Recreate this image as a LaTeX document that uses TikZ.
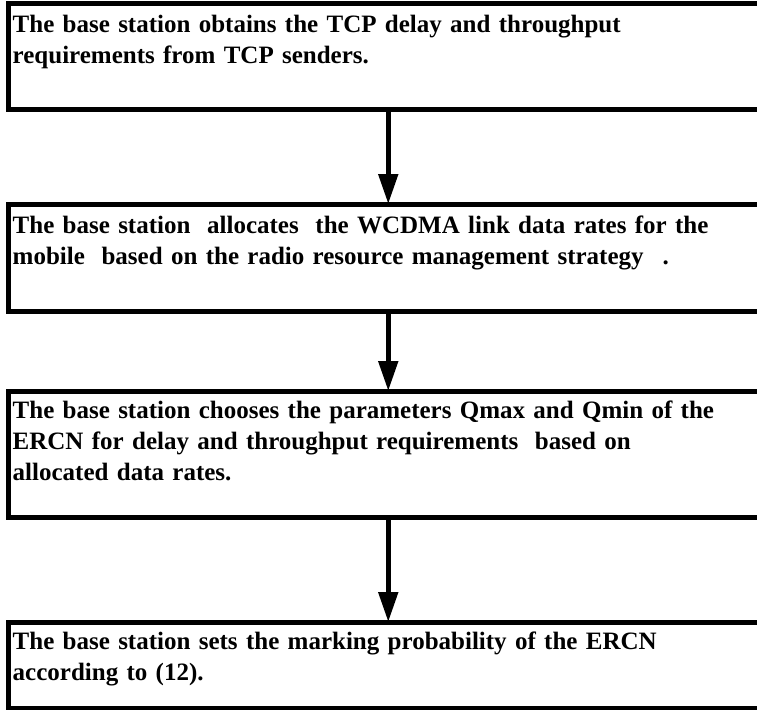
\documentclass[tikz,border=0pt]{standalone}
\usepackage{fontspec}
\setmainfont{Liberation Serif}
\usetikzlibrary{arrows.meta}
\begin{document}
\begin{tikzpicture}[x=1pt,y=-1pt,
  box/.style={draw=black,line width=5pt,outer sep=0pt,inner sep=0pt,anchor=north west,minimum width=759.5pt},
  txt/.style={anchor=base west,inner sep=0pt,text width=740pt,align=left,
    font=\fontsize{25}{31}\selectfont\bfseries},
  flow/.style={line width=5pt,-{Triangle[length=30pt,width=19pt]}}]
\useasboundingbox (0,0) rectangle (757,709);
\node[box,minimum height=105.5pt] (b1) at (8.5,3.5) {};
\node[box,minimum height=107pt] (b2) at (8.5,204) {};
\node[box,minimum height=126pt] (b3) at (8.5,391) {};
\node[box,minimum height=86pt] (b4) at (8.5,622) {};
\node[txt] (t1) at (12.5,33) {The base station obtains the TCP delay and throughput\\requirements from TCP senders.};
\node[txt] (t2) at (12.5,233) {The base station\ \ allocates\ \ the WCDMA link data rates for the\\mobile\ \ based on the radio resource management strategy\hspace{19pt}.};
\node[txt] (t3) at (12.5,418) {The base station chooses the parameters Qmax and Qmin of the\\ERCN for delay and throughput requirements\ \ based on\\allocated data rates.};
\node[txt] (t4) at (12.5,649) {The base station sets the marking probability of the ERCN\\according to (12).};
\draw[flow] (b1.south) -- (b2.north);
\draw[flow] (b2.south) -- (b3.north);
\draw[flow] (b3.south) -- (b4.north);
\end{tikzpicture}
\end{document}
